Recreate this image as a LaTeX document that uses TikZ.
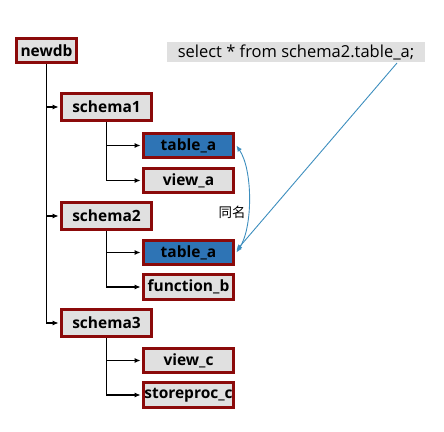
\documentclass[tikz,border=0pt]{standalone}
\usepackage{fontspec}
\setmainfont{Open Sans}
\newfontfamily\cjk{Noto Sans CJK SC}
\usetikzlibrary{arrows.meta}
\definecolor{boxgray}{HTML}{E0E0E0}
\definecolor{boxred}{HTML}{8B0A0A}
\definecolor{boxblue}{HTML}{2E74B5}
\definecolor{linkblue}{HTML}{3D8EBE}
\begin{document}
\begin{tikzpicture}[x=1pt,y=-1pt,
  box/.style={draw=boxred, line width=2.8pt, fill=boxgray, inner sep=0pt,
    font=\bfseries\fontsize{15.5}{17}\selectfont, minimum height=24.5pt},
  schemabox/.style={box, minimum width=90.2pt, minimum height=27.2pt},
  childbox/.style={box, minimum width=90.2pt},
  bluebox/.style={childbox, fill=boxblue},
  tree/.style={line width=1.1pt, -{Latex[length=6pt,width=5pt]}, shorten >=1.4pt},
  link/.style={draw=linkblue, line width=0.9pt, {Latex[length=6pt,width=5pt]}-{Latex[length=6pt,width=5pt]}},
  linkone/.style={draw=linkblue, line width=0.9pt, -{Latex[length=6pt,width=5pt]}}
]
\useasboundingbox (0,0) rectangle (444,431);
\node[box, minimum width=60.2pt] (newdb) at (46.5,50.5) {newdb};
\node[schemabox] (s1) at (106.5,107) {schema1};
\node[schemabox] (s2) at (106.5,216) {schema2};
\node[schemabox] (s3) at (106.5,323) {schema3};
\node[bluebox] (t1) at (188.5,145.5) {table\_a};
\node[childbox] (v1) at (188.5,180.5) {view\_a};
\node[bluebox] (t2) at (188.5,252.5) {table\_a};
\node[childbox] (f2) at (188.5,287) {function\_b};
\node[childbox] (v3) at (188.5,360.5) {view\_c};
\node[childbox] (p3) at (188.5,395) {storeproc\_c};
\node[fill=boxgray, minimum width=258pt, minimum height=20pt, inner sep=0pt,
  font=\fontsize{16.5}{18}\selectfont] (sql) at (296,52) {select * from schema2.table\_a;};
\coordinate (q) at (397,63);
\draw[tree] (newdb.south) |- (s1.west);
\draw[tree] (newdb.south) |- (s2.west);
\draw[tree] (newdb.south) |- (s3.west);
\draw[tree] (s1.south) |- (t1.west);
\draw[tree] (s1.south) |- (v1.west);
\draw[tree] (s2.south) |- (t2.west);
\draw[tree] (s2.south) |- (f2.west);
\draw[tree] (s3.south) |- (v3.west);
\draw[tree] (s3.south) |- (p3.west);
\draw[linkone] (q) -- ([shift={(1.4,-2)}]t2.east);
\draw[link] ([xshift=1.4pt]t1.east) .. controls (253,170) and (253,228) .. ([xshift=1.4pt]t2.east);
\node[font=\cjk\fontsize{13.5}{15}\selectfont, inner sep=0pt] (same) at (232,212) {同名};
\end{tikzpicture}
\end{document}
